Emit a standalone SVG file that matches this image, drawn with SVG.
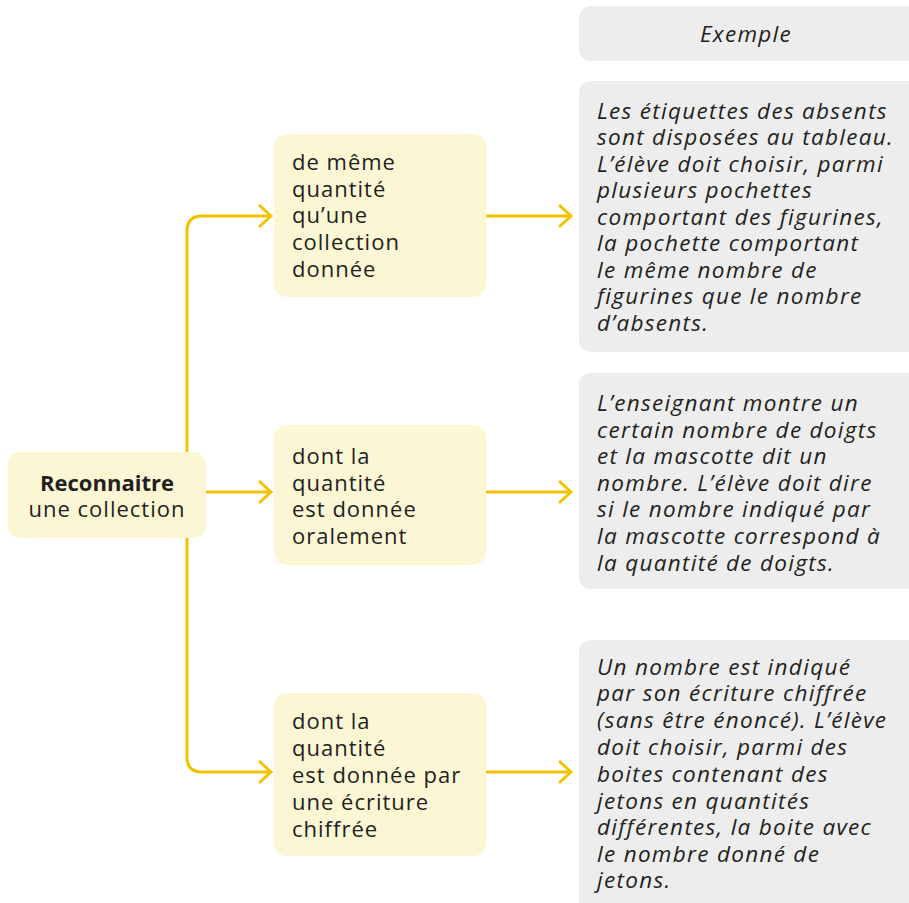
<svg xmlns="http://www.w3.org/2000/svg" width="909" height="903" viewBox="0 0 909 903">
<defs>
<style>
.y{fill:#FBF6D4}
.g{fill:#EDEDED}
.t{font-family:"Open Sans","Noto Sans",sans-serif;font-size:22px;fill:#231F20;letter-spacing:1px}
.b{font-weight:bold;letter-spacing:0}
.i{font-family:"Open Sans","Noto Sans",sans-serif;font-size:22.5px;font-style:italic;fill:#231F20;letter-spacing:1.3px}
.c{fill:none;stroke:#F2C200;stroke-width:3}
</style>
<marker id="ah" markerUnits="userSpaceOnUse" markerWidth="16" markerHeight="26" refX="13" refY="12" orient="auto" viewBox="0 0 16 26">
<path d="M1,1 L13,12 L1,23" fill="none" stroke="#F2C200" stroke-width="3"/>
</marker>
</defs>
<rect width="909" height="903" fill="#fff"/>
<g id="connectors">
<path class="c" d="M187,452 V231 Q187,216 202,216 H271" marker-end="url(#ah)"/>
<path class="c" d="M187,538 V757 Q187,772 202,772 H271" marker-end="url(#ah)"/>
<path class="c" d="M206,492 H271" marker-end="url(#ah)"/>
<path class="c" d="M486,216 H571" marker-end="url(#ah)"/>
<path class="c" d="M486,492 H571" marker-end="url(#ah)"/>
<path class="c" d="M486,772 H571" marker-end="url(#ah)"/>
</g>
<g id="root">
<rect class="y" x="8" y="452" width="198" height="86" rx="13"/>
<text class="t b" text-anchor="middle" x="107" y="491">Reconnaitre</text>
<text class="t" text-anchor="middle" x="107" y="517">une collection</text>
</g>
<g id="n1">
<rect class="y" x="274" y="134" width="212" height="163" rx="13"/>
<text class="t" x="292" y="170">de même</text>
<text class="t" x="292" y="197">quantité</text>
<text class="t" x="292" y="223">qu’une</text>
<text class="t" x="292" y="250">collection</text>
<text class="t" x="292" y="277">donnée</text>
</g>
<g id="n2">
<rect class="y" x="274" y="425" width="212" height="140" rx="13"/>
<text class="t" x="292" y="464">dont la</text>
<text class="t" x="292" y="491">quantité</text>
<text class="t" x="292" y="517">est donnée</text>
<text class="t" x="292" y="544">oralement</text>
</g>
<g id="n3">
<rect class="y" x="274" y="693" width="212" height="163" rx="13"/>
<text class="t" x="292" y="729">dont la</text>
<text class="t" x="292" y="756">quantité</text>
<text class="t" x="292" y="783">est donnée par</text>
<text class="t" x="292" y="810">une écriture</text>
<text class="t" x="292" y="837">chiffrée</text>
</g>
<g id="header">
<rect class="g" x="579" y="6" width="345" height="55" rx="12"/>
<text class="i" text-anchor="middle" x="746" y="42">Exemple</text>
</g>
<g id="ex1">
<rect class="g" x="579" y="81" width="345" height="271" rx="12"/>
<text class="i" x="597" y="119">Les étiquettes des absents</text>
<text class="i" x="597" y="145">sont disposées au tableau.</text>
<text class="i" x="597" y="172">L’élève doit choisir, parmi</text>
<text class="i" x="597" y="198">plusieurs pochettes</text>
<text class="i" x="597" y="225">comportant des figurines,</text>
<text class="i" x="597" y="251">la pochette comportant</text>
<text class="i" x="597" y="278">le même nombre de</text>
<text class="i" x="597" y="304">figurines que le nombre</text>
<text class="i" x="597" y="331">d’absents.</text>
</g>
<g id="ex2">
<rect class="g" x="579" y="373" width="345" height="216" rx="12"/>
<text class="i" x="597" y="411">L’enseignant montre un</text>
<text class="i" x="597" y="438">certain nombre de doigts</text>
<text class="i" x="597" y="464">et la mascotte dit un</text>
<text class="i" x="597" y="491">nombre. L’élève doit dire</text>
<text class="i" x="597" y="517">si le nombre indiqué par</text>
<text class="i" x="597" y="544">la mascotte correspond à</text>
<text class="i" x="597" y="571">la quantité de doigts.</text>
</g>
<g id="ex3">
<rect class="g" x="579" y="640" width="345" height="280" rx="12"/>
<text class="i" x="597" y="675">Un nombre est indiqué</text>
<text class="i" x="597" y="701">par son écriture chiffrée</text>
<text class="i" x="597" y="728">(sans être énoncé). L’élève</text>
<text class="i" x="597" y="755">doit choisir, parmi des</text>
<text class="i" x="597" y="782">boites contenant des</text>
<text class="i" x="597" y="809">jetons en quantités</text>
<text class="i" x="597" y="835">différentes, la boite avec</text>
<text class="i" x="597" y="862">le nombre donné de</text>
<text class="i" x="597" y="888">jetons.</text>
</g>
</svg>
